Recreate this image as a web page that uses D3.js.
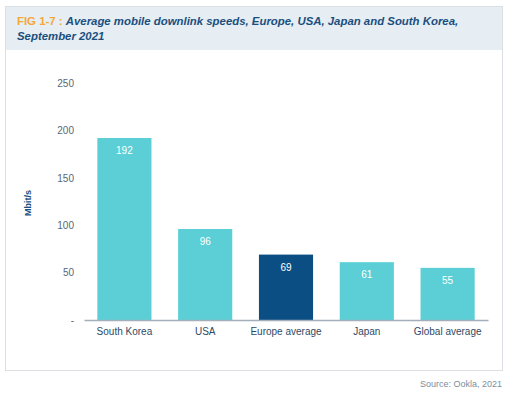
<!DOCTYPE html>
<html><head><meta charset="utf-8">
<script src="https://cdn.jsdelivr.net/npm/d3@7"></script>
<style>
html,body{margin:0;padding:0;background:#fff;}
svg{display:block;font-family:"Liberation Sans",Arial,sans-serif;}
</style></head>
<body>
<svg id="c" width="513" height="393"></svg>
<script>
const categories = ["South Korea","USA","Europe average","Japan","Global average"];
const values = [192,96,69,61,55];
const highlight = ["Europe average"];
const yTicks = [0,50,100,150,200,250];
const yTickLabels = ["-","50","100","150","200","250"];
const titlePrefix = "FIG 1-7 : ";
const titleLine1 = "Average mobile downlink speeds, Europe, USA, Japan and South Korea,";
const titleLine2 = "September 2021";
const yLabel = "Mbit/s";
const source = "Source: Ookla, 2021";

const svg = d3.select("#c");
// frame
svg.append("rect").attr("x",5.5).attr("y",6.5).attr("width",497).attr("height",364)
  .attr("fill","#fff").attr("stroke","#dcdfe3");
svg.append("rect").attr("x",6).attr("y",7).attr("width",496).attr("height",43).attr("fill","#e6edf3");

const t1 = svg.append("text").attr("x",17).attr("y",25).attr("font-size",11.4).attr("font-weight","bold");
t1.append("tspan").attr("fill","#f5a83a").text(titlePrefix);
t1.append("tspan").attr("fill","#1b4f7e").attr("font-style","italic").text(titleLine1);
svg.append("text").attr("x",17).attr("y",40).attr("font-size",11.4).attr("font-weight","bold")
  .attr("font-style","italic").attr("fill","#1b4f7e").text(titleLine2);

const x = d3.scaleBand().domain(categories).range([84,488]).paddingInner(0.33).paddingOuter(0.165);
const y = d3.scaleLinear().domain([0,250]).range([320,83]);

// y tick labels
const yAxis = d3.axisLeft(y).tickValues(yTicks).tickFormat((d,i)=>yTickLabels[i]).tickSize(0).tickPadding(0);
const ga = svg.append("g").attr("transform","translate(74,0)").call(yAxis);
ga.select(".domain").remove();
ga.selectAll("text").attr("font-size",10).attr("fill","#56687a").attr("font-family","Liberation Sans, Arial, sans-serif");

svg.append("text").attr("transform","translate(31,203) rotate(-90)").attr("text-anchor","middle")
  .attr("font-size",9).attr("font-weight","bold").attr("fill","#1b4f7e").text(yLabel);

// bars
svg.selectAll("rect.bar").data(categories).enter().append("rect").attr("class","bar")
  .attr("x",d=>x(d)).attr("width",x.bandwidth())
  .attr("y",(d,i)=>y(values[i])).attr("height",(d,i)=>y(0)-y(values[i]))
  .attr("fill",d=>highlight.includes(d)?"#0a4e83":"#5bcfd5");

svg.selectAll("text.val").data(categories).enter().append("text").attr("class","val")
  .attr("x",d=>x(d)+x.bandwidth()/2).attr("y",(d,i)=>y(values[i])+16)
  .attr("text-anchor","middle").attr("font-size",10).attr("fill","#fff").text((d,i)=>values[i]);

// x axis
const xAxis = d3.axisBottom(x).tickSize(0).tickPadding(8);
const gx = svg.append("g").attr("transform","translate(0,320)").call(xAxis);
gx.select(".domain").attr("stroke","#a3b0bb").attr("stroke-width",1.5);
gx.selectAll("text").attr("font-size",10).attr("fill","#2f4a66").attr("font-family","Liberation Sans, Arial, sans-serif");

svg.append("text").attr("x",502).attr("y",387).attr("text-anchor","end").attr("font-size",9)
  .attr("fill","#7b8ea0").text(source);
</script>
</body></html>
